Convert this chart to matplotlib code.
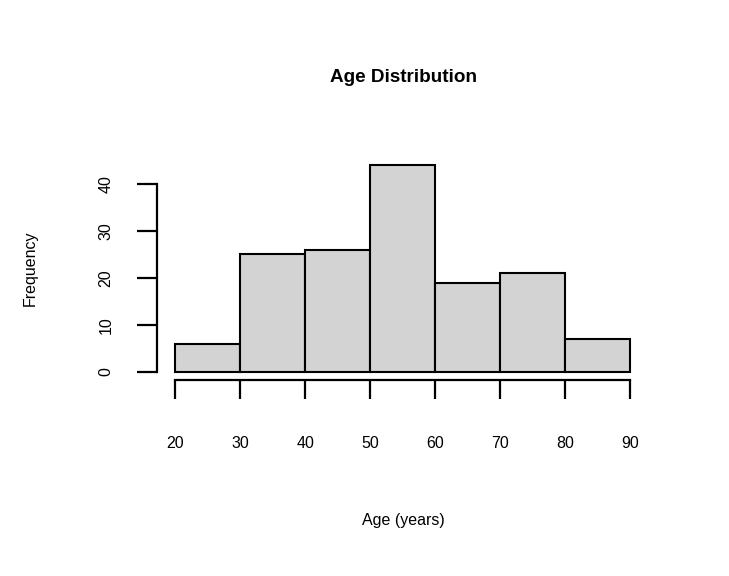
import matplotlib.pyplot as plt
import numpy as np

plt.rcParams['font.family'] = ['Liberation Sans', 'DejaVu Sans']

# Histogram bins and counts
bin_edges = [20, 30, 40, 50, 60, 70, 80, 90]
counts = [6, 25, 26, 44, 19, 21, 7]
x_ticks = [20, 30, 40, 50, 60, 70, 80, 90]
y_ticks = [0, 10, 20, 30, 40]

W, H = 729, 576
fig = plt.figure(figsize=(W / 100, H / 100), dpi=100)

# axes box in pixels (left, top, right, bottom)
L, T, R, B = 157, 157, 648, 380
ax = fig.add_axes([L / W, 1 - B / H, (R - L) / W, (B - T) / H])

ax.bar(bin_edges[:-1], counts, width=np.diff(bin_edges), align='edge',
       color='#d3d3d3', edgecolor='black', linewidth=1.5)

ax.set_xlim(17.2, 92.8)
ax.set_ylim(-1.76, 45.76)

for s in ['top', 'right']:
    ax.spines[s].set_visible(False)
ax.spines['left'].set_bounds(0, 40)
ax.spines['bottom'].set_bounds(20, 90)
ax.spines['left'].set_linewidth(1.6)
ax.spines['bottom'].set_linewidth(1.6)

ax.set_xticks(x_ticks)
ax.set_yticks(y_ticks)
ax.tick_params(axis='x', length=14, width=1.6, pad=26, labelsize=11.5)
ax.tick_params(axis='y', length=14.5, width=1.6, pad=17, labelsize=11.5,
               labelrotation=90)
for lbl in ax.get_yticklabels():
    lbl.set_va('center')

fig.text(403 / W, 1 - 78 / H, 'Age Distribution', ha='center', va='center',
         fontsize=13.6, fontweight='bold')
fig.text(403 / W, 1 - 520 / H, 'Age (years)', ha='center', va='center',
         fontsize=11.5)
fig.text(30 / W, 1 - 268 / H, 'Frequency', ha='center', va='center',
         fontsize=11.5, rotation=90)

fig.savefig('out.png', dpi=100)
